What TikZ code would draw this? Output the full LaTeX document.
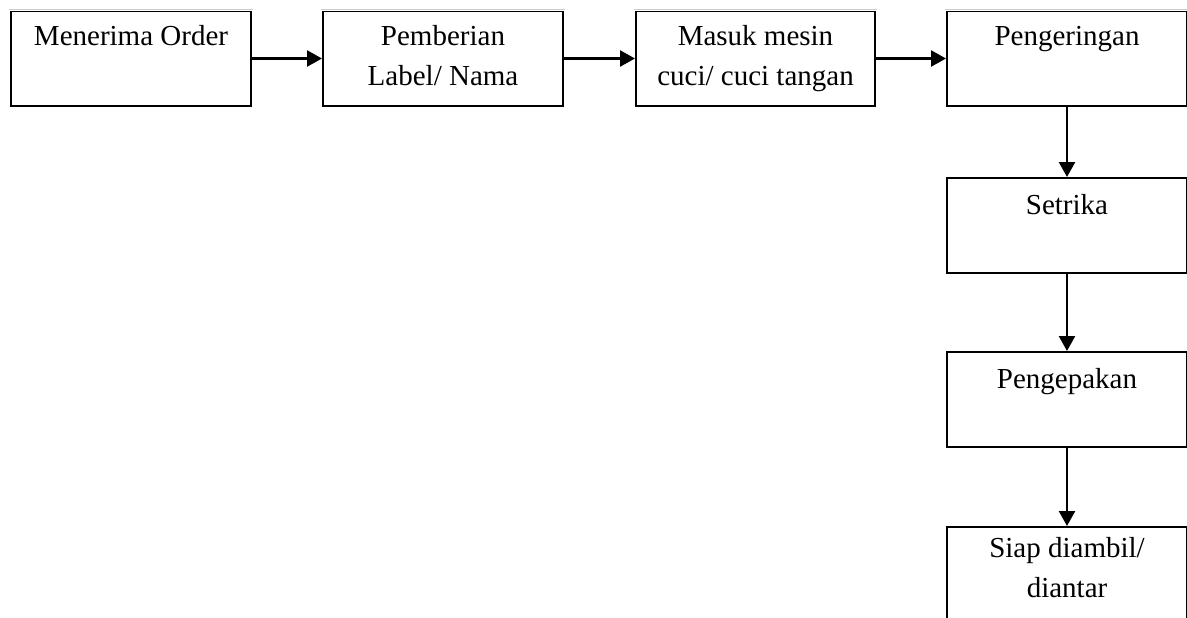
\documentclass[tikz,border=0pt]{standalone}
\usepackage{fontspec}
\setmainfont{Liberation Serif}
\usetikzlibrary{arrows.meta}
\tikzset{
  box/.style={draw=black, line width=2pt, rectangle, minimum width=240pt, minimum height=95pt, inner sep=0pt},
  txt/.style={anchor=base, inner sep=0pt, font=\fontsize{29}{39}\selectfont},
  arr/.style={draw=black, line width=2.4pt, -{Triangle[length=15pt,width=16pt]}},
  cutw/.style={draw=white, line width=2.6pt},
  cutg/.style={draw=black!20, line width=1pt}
}
\begin{document}
\begin{tikzpicture}[x=1pt,y=-1pt]
\useasboundingbox (0,0) rectangle (1187,618);
\fill[white] (0,0) rectangle (1187,618);
% boxes
\node[box] (b1) at (131,58.5) {};
\node[box] (b2) at (443,58.5) {};
\node[box, minimum width=239pt] (b3) at (755.5,58.5) {};
\node[box] (b4) at (1067,58.5) {};
\node[box] (b5) at (1067,225.5) {};
\node[box] (b6) at (1067,399.5) {};
\node[box] (b7) at (1067,574.5) {};
% cut edges (page crop)
\foreach \n in {b1,b2,b3,b4}{
  \draw[cutw] (\n.north west) -- (\n.north east);
  \draw[cutg] ([xshift=-1pt]\n.north west) -- ([xshift=1pt]\n.north east);
}
\foreach \n in {b4,b5,b6,b7}{
  \draw[cutw] ([yshift=1pt]\n.north east) -- ([yshift=-1pt]\n.south east);
  \draw[cutg] ([xshift=-0.5pt,yshift=1pt]\n.north east) -- ([xshift=-0.5pt,yshift=-1pt]\n.south east);
}
% texts
\node[txt] (t1) at ([yshift=-36pt]b1.north) {Menerima Order};
\node[txt] (t2a) at ([yshift=-36pt]b2.north) {Pemberian};
\node[txt] (t2b) at ([yshift=-75pt]b2.north) {Label/ Nama};
\node[txt] (t3a) at ([yshift=-36pt]b3.north) {Masuk mesin};
\node[txt] (t3b) at ([yshift=-75pt]b3.north) {cuci/ cuci tangan};
\node[txt] (t4) at ([yshift=-36pt]b4.north) {Pengeringan};
\node[txt] (t5) at ([yshift=-37pt]b5.north) {Setrika};
\node[txt] (t6) at ([yshift=-37pt]b6.north) {Pengepakan};
\node[txt] (t7a) at ([yshift=-31pt]b7.north) {Siap diambil/};
\node[txt] (t7b) at ([yshift=-71pt]b7.north) {diantar};
% connectors
\draw[arr] (b1.east) -- (b2.west);
\draw[arr] (b2.east) -- (b3.west);
\draw[arr] (b3.east) -- (b4.west);
\draw[arr] (b4.south) -- (b5.north);
\draw[arr] (b5.south) -- (b6.north);
\draw[arr] (b6.south) -- (b7.north);
\end{tikzpicture}
\end{document}
